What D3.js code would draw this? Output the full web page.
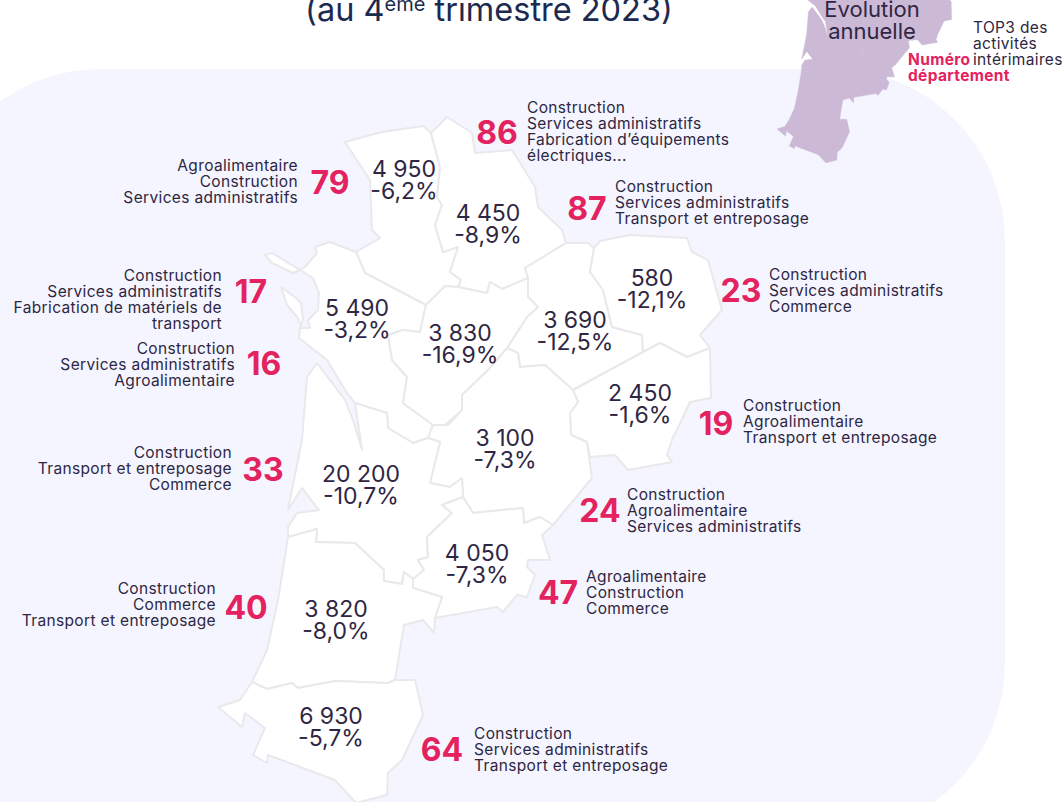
<!DOCTYPE html>
<html lang="fr">
<head>
<meta charset="utf-8">
<script src="https://d3js.org/d3.v7.min.js"></script>
<style>
  html, body { margin: 0; padding: 0; background: #fff; }
  svg { display: block; }
  text { font-family: Inter, "Noto Sans", sans-serif; }
</style>
</head>
<body>
<div id="chart"></div>
<script>
/* Donnees */
var departements = ["79", "86", "87", "23", "19", "17", "16", "24", "33", "47", "40", "64"];
var effectifs = ["4 950", "4 450", "3 690", "580", "2 450", "5 490", "3 830", "3 100", "20 200", "4 050", "3 820", "6 930"];
var evolutions = ["-6,2%", "-8,9%", "-12,5%", "-12,1%", "-1,6%", "-3,2%", "-16,9%", "-7,3%", "-10,7%", "-7,3%", "-8,0%", "-5,7%"];
var top3 = [
  ["Agroalimentaire", "Construction", "Services administratifs"],
  ["Construction", "Services administratifs", "Fabrication d’équipements", "électriques..."],
  ["Construction", "Services administratifs", "Transport et entreposage"],
  ["Construction", "Services administratifs", "Commerce"],
  ["Construction", "Agroalimentaire", "Transport et entreposage"],
  ["Construction", "Services administratifs", "Fabrication de matériels de", "transport"],
  ["Construction", "Services administratifs", "Agroalimentaire"],
  ["Construction", "Agroalimentaire", "Services administratifs"],
  ["Construction", "Transport et entreposage", "Commerce"],
  ["Agroalimentaire", "Construction", "Commerce"],
  ["Construction", "Commerce", "Transport et entreposage"],
  ["Construction", "Services administratifs", "Transport et entreposage"]
];

/* Contours des departements (traces sur la carte d'origine) */
var contour79 = [[345,142],[382,132],[423,126],[431,133],[440,167],[437,197],[442,205],[435,225],[443,252],[458,247],[450,272],[461,280],[458,287],[445,286],[426,305],[365,273],[356,252],[380,238],[372,230],[370,180]];
var contour86 = [[431,133],[447,117],[472,133],[475,153],[512,150],[535,187],[538,207],[562,230],[566,243],[525,268],[528,278],[502,289],[490,282],[487,293],[458,287],[461,280],[450,272],[458,247],[443,252],[435,225],[442,205],[437,197],[440,167]];
var contour87 = [[525,268],[566,243],[588,243],[594,248],[590,272],[603,290],[612,327],[642,335],[643,352],[573,390],[545,365],[520,367],[518,353],[507,348],[527,317],[538,307],[528,297],[528,278]];
var contour23 = [[594,248],[600,241],[630,235],[687,238],[692,252],[708,260],[722,310],[700,335],[710,348],[687,357],[660,343],[643,352],[642,335],[612,327],[603,290],[590,272]];
var contour19 = [[643,352],[660,343],[687,357],[710,348],[711,398],[690,402],[677,430],[673,437],[667,455],[672,462],[628,470],[615,455],[590,457],[587,442],[571,435],[570,413],[578,402],[573,390]];
var contour17 = [[300,270],[305,267],[317,253],[315,247],[330,242],[356,252],[365,273],[426,305],[420,332],[403,330],[388,335],[392,360],[407,377],[403,403],[433,425],[428,438],[413,443],[388,428],[387,413],[355,403],[347,393],[327,360],[299,338],[300,328],[310,328],[308,320],[318,310],[319,293],[313,278]];
var ileRe = [[265,255],[272,253],[300,270],[293,273],[272,263]];
var ileOleron = [[281,287],[296,298],[301,303],[303,318],[301,327],[298,318],[287,305]];
var contour16 = [[426,305],[445,286],[458,287],[487,293],[490,282],[502,289],[528,278],[528,297],[538,307],[527,317],[507,348],[490,368],[462,395],[462,410],[445,425],[433,425],[403,403],[407,377],[392,360],[388,335],[403,330],[420,332]];
var contour24 = [[433,425],[448,425],[462,410],[462,395],[490,368],[507,348],[518,353],[520,367],[545,365],[573,390],[578,402],[570,413],[571,435],[587,442],[592,478],[553,525],[540,517],[524,523],[523,508],[473,513],[463,497],[462,478],[450,487],[430,483],[440,442],[428,438]];
var contour33 = [[317,363],[307,377],[302,440],[288,510],[302,488],[319,510],[297,513],[288,527],[288,537],[317,529],[316,542],[355,543],[384,570],[384,581],[402,584],[404,572],[413,579],[424,570],[418,560],[428,557],[427,537],[452,513],[442,505],[463,497],[462,478],[450,487],[430,483],[440,442],[428,438],[413,443],[388,428],[387,413],[355,403],[362,450],[353,420],[345,400]];
var contour47 = [[463,497],[473,513],[523,508],[524,523],[540,517],[553,525],[542,535],[550,560],[528,560],[527,567],[535,575],[527,597],[517,595],[503,612],[497,607],[435,618],[442,597],[413,588],[413,579],[424,570],[418,560],[428,557],[427,537],[452,513],[442,505]];
var contour40 = [[288,537],[317,529],[316,542],[355,543],[384,570],[384,581],[402,584],[404,572],[413,579],[413,588],[442,597],[435,618],[434,633],[423,620],[404,625],[395,680],[388,683],[335,681],[298,688],[292,683],[267,689],[252,682],[267,650],[278,600]];
var contour64 = [[252,682],[267,689],[292,683],[298,688],[335,681],[388,683],[395,680],[415,680],[423,715],[410,743],[402,760],[388,773],[387,795],[356,803],[335,780],[268,755],[267,763],[253,755],[265,728],[245,713],[242,727],[218,707],[240,700]];

var contours = [contour79, contour86, contour87, contour23, contour19, contour17, contour16, contour24, contour33, contour47, contour40, contour64];
var islands = [ileRe, ileOleron];

/* Mise en page */
var width = 1064;
var height = 802;
var dark = "#2f2643";
var red = "#e3225f";

// position du chiffre, de la valeur et du texte pour chaque departement
var layout = [
  {nx: 330, ny: 183, vx: 404, vy: 169, tx: 298, ty: 166, anchor: "end"},
  {nx: 497, ny: 133, vx: 488, vy: 213, tx: 527, ty: 108, anchor: "start"},
  {nx: 587, ny: 209, vx: 575, vy: 320, tx: 615, ty: 187, anchor: "start"},
  {nx: 741, ny: 291, vx: 652, vy: 278, tx: 769, ty: 275, anchor: "start"},
  {nx: 716, ny: 424, vx: 640, vy: 393, tx: 743, ty: 406, anchor: "start"},
  {nx: 251, ny: 292, vx: 357, vy: 308, tx: 222, ty: 276, anchor: "end"},
  {nx: 264, ny: 364, vx: 460, vy: 333, tx: 235, ty: 349, anchor: "end"},
  {nx: 600, ny: 511, vx: 505, vy: 438, tx: 627, ty: 495, anchor: "start"},
  {nx: 263, ny: 470, vx: 361, vy: 474, tx: 232, ty: 453, anchor: "end"},
  {nx: 558, ny: 593, vx: 477, vy: 553, tx: 586, ty: 577, anchor: "start"},
  {nx: 246, ny: 608, vx: 336, vy: 609, tx: 216, ty: 589, anchor: "end"},
  {nx: 442, ny: 750, vx: 331, vy: 716, tx: 474, ty: 734, anchor: "start"}
];

var svg = d3.select("#chart").append("svg")
  .attr("width", width)
  .attr("height", height);

/* Fond */
svg.append("rect")
  .attr("x", -71)
  .attr("y", 69)
  .attr("width", 1076)
  .attr("height", 766)
  .attr("rx", 172)
  .attr("fill", "#f4f5fe");

/* Cartes */
function toFeature(ring) {
  return {type: "Feature", geometry: {type: "Polygon", coordinates: [ring.concat([ring[0]])]}};
}

var mainPath = d3.geoPath(d3.geoIdentity());
var insetPath = d3.geoPath(d3.geoIdentity().translate([699.8, -121.4]).scale(0.354));

svg.append("g").selectAll("path")
  .data(contours.concat(islands).map(toFeature)).enter()
  .append("path")
  .attr("d", insetPath)
  .attr("fill", "#cbb9d6")
  .attr("stroke", "#cbb9d6")
  .attr("stroke-width", 0.5);

svg.append("g").selectAll("path")
  .data(contours.concat(islands).map(toFeature)).enter()
  .append("path")
  .attr("d", mainPath)
  .attr("fill", "#fff")
  .attr("stroke", "#e9e9ec")
  .attr("stroke-width", 2)
  .attr("stroke-linejoin", "round");

/* Titre */
var title = svg.append("text")
  .attr("x", 489)
  .attr("y", 21)
  .attr("text-anchor", "middle")
  .attr("font-size", 32.5)
  .attr("fill", "#1b2a4e");
title.append("tspan").text("(au 4");
title.append("tspan").attr("dy", -10).attr("font-size", 20).text("ème");
title.append("tspan").attr("dy", 10).text(" trimestre 2023)");

/* Etiquettes */
var labels = svg.append("g").selectAll("g")
  .data(departements).enter()
  .append("g");

labels.append("text")
  .attr("x", (d, i) => layout[i].nx)
  .attr("y", (d, i) => layout[i].ny)
  .attr("dy", "0.35em")
  .attr("text-anchor", "middle")
  .attr("font-size", 32)
  .attr("font-weight", 700)
  .attr("fill", red)
  .text(d => d);

labels.append("text")
  .attr("x", (d, i) => layout[i].vx)
  .attr("y", (d, i) => layout[i].vy)
  .attr("dy", "0.35em")
  .attr("text-anchor", "middle")
  .attr("font-size", 23)
  .attr("fill", dark)
  .text((d, i) => effectifs[i]);

labels.append("text")
  .attr("x", (d, i) => layout[i].vx)
  .attr("y", (d, i) => layout[i].vy + 22)
  .attr("dy", "0.35em")
  .attr("text-anchor", "middle")
  .attr("font-size", 23)
  .attr("fill", dark)
  .text((d, i) => evolutions[i]);

labels.each(function(d, i) {
  d3.select(this).selectAll(".act")
    .data(top3[i]).enter()
    .append("text")
    .attr("class", "act")
    .attr("x", layout[i].tx)
    .attr("y", (t, j) => layout[i].ty + j * 16)
    .attr("dy", "0.35em")
    .attr("text-anchor", layout[i].anchor)
    .attr("font-size", 15.5)
    .attr("letter-spacing", 0.35)
    .attr("fill", dark)
    .text(t => t);
});

/* Legende */
var legendTitle = ["Évolution", "annuelle"];
var legendTop = ["TOP3 des", "activités", "intérimaires"];
var legendNum = ["Numéro", "département"];

svg.selectAll(".lt")
  .data(legendTitle).enter()
  .append("text")
  .attr("class", "lt")
  .attr("x", 872)
  .attr("y", (d, i) => 9 + i * 22)
  .attr("dy", "0.35em")
  .attr("text-anchor", "middle")
  .attr("font-size", 22)
  .attr("fill", dark)
  .text(d => d);

svg.selectAll(".ltop")
  .data(legendTop).enter()
  .append("text")
  .attr("class", "ltop")
  .attr("x", 973)
  .attr("y", (d, i) => 28 + i * 16)
  .attr("dy", "0.35em")
  .attr("font-size", 15.5)
  .attr("letter-spacing", 0.35)
  .attr("fill", dark)
  .text(d => d);

svg.selectAll(".lnum")
  .data(legendNum).enter()
  .append("text")
  .attr("class", "lnum")
  .attr("x", 908)
  .attr("y", (d, i) => 60 + i * 16)
  .attr("dy", "0.35em")
  .attr("font-size", 15.5)
  .attr("letter-spacing", 0.35)
  .attr("font-weight", 700)
  .attr("fill", red)
  .text(d => d);
</script>
</body>
</html>
